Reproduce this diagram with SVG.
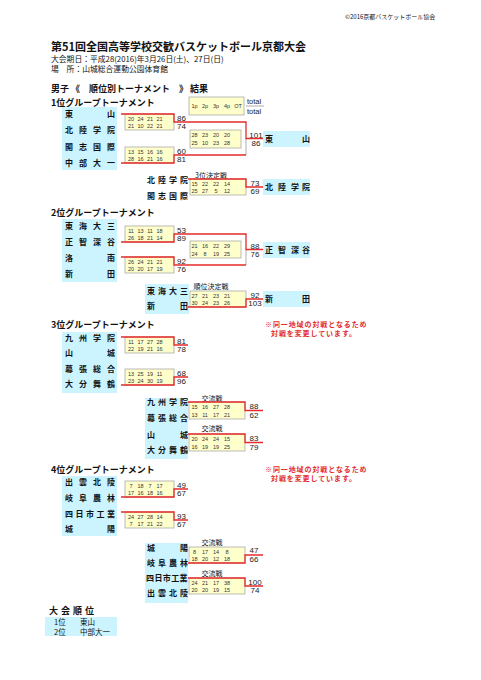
<svg xmlns="http://www.w3.org/2000/svg" width="481" height="680" viewBox="0 0 481 680">
<style>
text{font-family:"Noto Sans CJK JP","Noto Sans CJK SC",sans-serif;fill:#111}
.n{font-size:8px;font-weight:bold}
.s{font-family:"Liberation Sans",Arial,sans-serif;font-size:8px;fill:#222}
.s3{font-family:"Liberation Sans",Arial,sans-serif;font-size:8px;fill:#222;text-anchor:middle}
.q{font-family:"Liberation Sans",Arial,sans-serif;font-size:5.5px;fill:#333;text-anchor:middle}
.lb{font-size:7px;text-anchor:middle}
.h{font-size:9px;font-weight:bold}
.note{font-size:7px;font-weight:bold;fill:#e52b2b;letter-spacing:0.9px}
.cy{fill:#ccf4ff}
.yb{fill:#ffffcc;stroke:#aaa;stroke-width:0.8}
.r{stroke:#e52b2b;stroke-width:1.3;fill:none}
.g{stroke:#999;stroke-width:0.8;fill:none}
</style>
<rect width="481" height="680" fill="#fff"/>
<g id="header">
<text x="345" y="19" style="font-size:6px">©2016京都バスケットボール協会</text>
<text x="51" y="51" style="font-size:11px;font-weight:bold">第51回全国高等学校交歓バスケットボール京都大会</text>
<text x="51" y="61.5" style="font-size:7.8px">大会期日：平成28(2016)年3月26日(土)、27日(日)</text>
<text x="51" y="71.5" style="font-size:7.8px">場　所：山城総合運動公園体育館</text>
<text x="51" y="91.5" class="h">男子 《　順位別トーナメント　》 結果</text>
</g>

<!-- ===== Group 1 ===== -->
<g id="g1-heading"><text x="51" y="105.5" class="h">1位グループトーナメント</text></g>
<g id="g1-legend">
<rect x="189" y="97" width="55" height="18" class="yb"/>
<text class="q" y="108"><tspan x="194.5">1p</tspan><tspan x="205">2p</tspan><tspan x="216">3p</tspan><tspan x="227">4p</tspan><tspan x="238">OT</tspan></text>
<text class="s" x="247" y="103.5" style="font-size:7.5px">total</text>
<line x1="246" y1="106" x2="264" y2="106" class="g"/>
<text class="s" x="247" y="113.5" style="font-size:7.5px">total</text>
</g>
<g id="g1-names">
<rect x="62" y="107" width="55" height="63" class="cy"/>
<text class="n" x="65 107" y="117">東山</text>
<text class="n" x="65 79 93 107" y="133">北陸学院</text>
<text class="n" x="65 79 93 107" y="150">開志国際</text>
<text class="n" x="65 79 93 107" y="166">中部大一</text>
</g>
<g id="g1-m1">
<rect x="125" y="114" width="49" height="16" class="yb"/>
<text class="q" y="120.5"><tspan x="131">20</tspan><tspan x="140.5">24</tspan><tspan x="150">21</tspan><tspan x="159.5">21</tspan></text>
<text class="q" y="128"><tspan x="131">21</tspan><tspan x="140.5">10</tspan><tspan x="150">22</tspan><tspan x="159.5">21</tspan></text>
<text class="s" x="177" y="121">86</text><text class="s" x="177" y="129">74</text>
</g>
<g id="g1-m2">
<rect x="125" y="147" width="49" height="16" class="yb"/>
<text class="q" y="153.5"><tspan x="131">13</tspan><tspan x="140.5">15</tspan><tspan x="150">16</tspan><tspan x="159.5">16</tspan></text>
<text class="q" y="161"><tspan x="131">28</tspan><tspan x="140.5">16</tspan><tspan x="150">21</tspan><tspan x="159.5">16</tspan></text>
<text class="s" x="177" y="154">60</text><text class="s" x="177" y="162">81</text>
</g>
<g id="g1-final">
<rect x="190" y="130" width="51" height="18" class="yb"/>
<text class="q" y="137"><tspan x="194.5">28</tspan><tspan x="205">23</tspan><tspan x="216">20</tspan><tspan x="227">20</tspan></text>
<text class="q" y="145"><tspan x="194.5">25</tspan><tspan x="205">10</tspan><tspan x="216">23</tspan><tspan x="227">28</tspan></text>
<text class="s3" x="256" y="137.5">101</text><text class="s3" x="256" y="146">86</text>
</g>
<g id="g1-winner">
<rect x="263" y="131" width="47" height="16" class="cy"/>
<text class="n" x="265 302" y="142">東山</text>
</g>
<g id="g1-third">
<text class="lb" x="211" y="177.5">3位決定戦</text>
<text class="n" x="147 158 169 180" y="183">北陸学院</text>
<text class="n" x="147 158 169 180" y="199">開志国際</text>
<rect x="190" y="179" width="56" height="16" class="yb"/>
<text class="q" y="185.5"><tspan x="194.5">15</tspan><tspan x="205">22</tspan><tspan x="216">22</tspan><tspan x="227">14</tspan></text>
<text class="q" y="193"><tspan x="194.5">25</tspan><tspan x="205">27</tspan><tspan x="216">5</tspan><tspan x="227">12</tspan></text>
<text class="s3" x="255" y="186">73</text><text class="s3" x="255" y="194">69</text>
</g>
<g id="g1-third-winner">
<rect x="263" y="179" width="47" height="16" class="cy"/>
<text class="n" x="265 278 291 302" y="190">北陸学院</text>
</g>

<!-- ===== Group 2 ===== -->
<g id="g2-heading"><text x="51" y="215.5" class="h">2位グループトーナメント</text></g>
<g id="g2-names">
<rect x="62" y="219" width="55" height="63" class="cy"/>
<text class="n" x="65 79 93 107" y="229">東海大三</text>
<text class="n" x="65 79 93 107" y="245">正智深谷</text>
<text class="n" x="65 107" y="261">洛南</text>
<text class="n" x="65 107" y="277">新田</text>
</g>
<g id="g2-m1">
<rect x="125" y="226" width="49" height="16" class="yb"/>
<text class="q" y="232.5"><tspan x="131">11</tspan><tspan x="140.5">13</tspan><tspan x="150">11</tspan><tspan x="159.5">18</tspan></text>
<text class="q" y="240"><tspan x="131">26</tspan><tspan x="140.5">18</tspan><tspan x="150">21</tspan><tspan x="159.5">14</tspan></text>
<text class="s" x="177" y="233">53</text><text class="s" x="177" y="241">89</text>
</g>
<g id="g2-m2">
<rect x="125" y="257" width="49" height="16" class="yb"/>
<text class="q" y="263.5"><tspan x="131">26</tspan><tspan x="140.5">24</tspan><tspan x="150">21</tspan><tspan x="159.5">21</tspan></text>
<text class="q" y="271"><tspan x="131">20</tspan><tspan x="140.5">20</tspan><tspan x="150">17</tspan><tspan x="159.5">19</tspan></text>
<text class="s" x="177" y="264">92</text><text class="s" x="177" y="272">76</text>
</g>
<g id="g2-final">
<rect x="190" y="241" width="51" height="17" class="yb"/>
<text class="q" y="247.5"><tspan x="194.5">21</tspan><tspan x="205">16</tspan><tspan x="216">22</tspan><tspan x="227">29</tspan></text>
<text class="q" y="255.5"><tspan x="194.5">24</tspan><tspan x="205">8</tspan><tspan x="216">19</tspan><tspan x="227">25</tspan></text>
<text class="s3" x="255" y="248.5">88</text><text class="s3" x="255" y="257">76</text>
</g>
<g id="g2-winner">
<rect x="263" y="242" width="47" height="16" class="cy"/>
<text class="n" x="265 278 291 302" y="253">正智深谷</text>
</g>
<g id="g2-rank">
<text class="lb" x="211" y="288.5">順位決定戦</text>
<rect x="145" y="284" width="44" height="30" class="cy"/>
<text class="n" x="147 158 169 180" y="294">東海大三</text>
<text class="n" x="147 180" y="309">新田</text>
<rect x="190" y="291" width="56" height="16" class="yb"/>
<text class="q" y="297.5"><tspan x="194.5">27</tspan><tspan x="205">21</tspan><tspan x="216">23</tspan><tspan x="227">21</tspan></text>
<text class="q" y="305"><tspan x="194.5">30</tspan><tspan x="205">24</tspan><tspan x="216">23</tspan><tspan x="227">26</tspan></text>
<text class="s3" x="255" y="297.5">92</text><text class="s3" x="255" y="306">103</text>
</g>
<g id="g2-rank-winner">
<rect x="263" y="291" width="47" height="16" class="cy"/>
<text class="n" x="265 302" y="302">新田</text>
</g>

<!-- ===== Group 3 ===== -->
<g id="g3-heading"><text x="51" y="327.5" class="h">3位グループトーナメント</text></g>
<g id="g3-note">
<text class="note" x="265" y="327">※同一地域の対戦となるため</text>
<text class="note" x="271" y="336">対戦を変更しています。</text>
</g>
<g id="g3-names">
<rect x="62" y="332" width="55" height="61" class="cy"/>
<text class="n" x="65 79 93 107" y="341">九州学院</text>
<text class="n" x="65 107" y="356">山城</text>
<text class="n" x="65 79 93 107" y="372">幕張総合</text>
<text class="n" x="65 79 93 107" y="387">大分舞鶴</text>
</g>
<g id="g3-m1">
<rect x="125" y="337" width="49" height="16" class="yb"/>
<text class="q" y="343.5"><tspan x="131">11</tspan><tspan x="140.5">17</tspan><tspan x="150">27</tspan><tspan x="159.5">28</tspan></text>
<text class="q" y="351"><tspan x="131">22</tspan><tspan x="140.5">19</tspan><tspan x="150">21</tspan><tspan x="159.5">16</tspan></text>
<text class="s" x="177" y="344">81</text><text class="s" x="177" y="352">78</text>
</g>
<g id="g3-m2">
<rect x="125" y="369" width="49" height="16" class="yb"/>
<text class="q" y="375.5"><tspan x="131">13</tspan><tspan x="140.5">25</tspan><tspan x="150">19</tspan><tspan x="159.5">11</tspan></text>
<text class="q" y="383"><tspan x="131">23</tspan><tspan x="140.5">24</tspan><tspan x="150">30</tspan><tspan x="159.5">19</tspan></text>
<text class="s" x="177" y="376">68</text><text class="s" x="177" y="384">96</text>
</g>
<g id="g3-cross-names">
<rect x="145" y="398" width="43" height="61" class="cy"/>
<text class="n" x="147 158 169 180" y="405">九州学院</text>
<text class="n" x="147 158 169 180" y="421">幕張総合</text>
<text class="n" x="147 180" y="438">山城</text>
<text class="n" x="147 158 169 180" y="453">大分舞鶴</text>
</g>
<g id="g3-x1">
<text class="lb" x="212" y="400.5">交流戦</text>
<rect x="189" y="402" width="56" height="17" class="yb"/>
<text class="q" y="408.5"><tspan x="194.5">15</tspan><tspan x="205">16</tspan><tspan x="216">27</tspan><tspan x="227">28</tspan></text>
<text class="q" y="416.5"><tspan x="194.5">13</tspan><tspan x="205">11</tspan><tspan x="216">17</tspan><tspan x="227">21</tspan></text>
<text class="s3" x="254" y="409">88</text><text class="s3" x="254" y="417.5">62</text>
</g>
<g id="g3-x2">
<text class="lb" x="212" y="431">交流戦</text>
<rect x="189" y="434" width="56" height="17" class="yb"/>
<text class="q" y="440.5"><tspan x="194.5">20</tspan><tspan x="205">24</tspan><tspan x="216">24</tspan><tspan x="227">15</tspan></text>
<text class="q" y="448.5"><tspan x="194.5">16</tspan><tspan x="205">19</tspan><tspan x="216">19</tspan><tspan x="227">25</tspan></text>
<text class="s3" x="254" y="441">83</text><text class="s3" x="254" y="449.5">79</text>
</g>

<!-- ===== Group 4 ===== -->
<g id="g4-heading"><text x="51" y="472.5" class="h">4位グループトーナメント</text></g>
<g id="g4-note">
<text class="note" x="265" y="472">※同一地域の対戦となるため</text>
<text class="note" x="271" y="481">対戦を変更しています。</text>
</g>
<g id="g4-names">
<rect x="62" y="476" width="55" height="60" class="cy"/>
<text class="n" x="65 79 93 107" y="485">出雲北陵</text>
<text class="n" x="65 79 93 107" y="501">岐阜農林</text>
<text class="n" x="65 75.5 86 96.5 107" y="517">四日市工業</text>
<text class="n" x="65 107" y="532">城陽</text>
</g>
<g id="g4-m1">
<rect x="125" y="481" width="49" height="16" class="yb"/>
<text class="q" y="487.5"><tspan x="131">7</tspan><tspan x="140.5">18</tspan><tspan x="150">7</tspan><tspan x="159.5">17</tspan></text>
<text class="q" y="495"><tspan x="131">17</tspan><tspan x="140.5">16</tspan><tspan x="150">18</tspan><tspan x="159.5">16</tspan></text>
<text class="s" x="177" y="488">49</text><text class="s" x="177" y="496">67</text>
</g>
<g id="g4-m2">
<rect x="125" y="512" width="49" height="16" class="yb"/>
<text class="q" y="518.5"><tspan x="131">24</tspan><tspan x="140.5">27</tspan><tspan x="150">28</tspan><tspan x="159.5">14</tspan></text>
<text class="q" y="526"><tspan x="131">7</tspan><tspan x="140.5">17</tspan><tspan x="150">21</tspan><tspan x="159.5">22</tspan></text>
<text class="s" x="177" y="519">93</text><text class="s" x="177" y="527">67</text>
</g>
<g id="g4-cross-names">
<rect x="145" y="543" width="43" height="60" class="cy"/>
<text class="n" x="147 180" y="551">城陽</text>
<text class="n" x="147 158 169 180" y="566">岐阜農林</text>
<text class="n" x="146 154.4 162.8 171.2 179.6" y="581">四日市工業</text>
<text class="n" x="147 158 169 180" y="596">出雲北陵</text>
</g>
<g id="g4-x1">
<text class="lb" x="212" y="544.5">交流戦</text>
<rect x="189" y="547" width="56" height="16" class="yb"/>
<text class="q" y="553.5"><tspan x="194.5">8</tspan><tspan x="205">17</tspan><tspan x="216">14</tspan><tspan x="227">8</tspan></text>
<text class="q" y="561"><tspan x="194.5">18</tspan><tspan x="205">20</tspan><tspan x="216">12</tspan><tspan x="227">18</tspan></text>
<text class="s3" x="254" y="553">47</text><text class="s3" x="254" y="561.5">66</text>
</g>
<g id="g4-x2">
<text class="lb" x="212" y="575.5">交流戦</text>
<rect x="189" y="578" width="56" height="16" class="yb"/>
<text class="q" y="584.5"><tspan x="194.5">24</tspan><tspan x="205">21</tspan><tspan x="216">17</tspan><tspan x="227">38</tspan></text>
<text class="q" y="592"><tspan x="194.5">20</tspan><tspan x="205">20</tspan><tspan x="216">19</tspan><tspan x="227">15</tspan></text>
<text class="s3" x="255" y="584.5">100</text><text class="s3" x="255" y="593">74</text>
</g>

<!-- ===== Final ranking ===== -->
<g id="ranking">
<text class="h" x="49 61 73 85" y="614">大会順位</text>
<rect x="45" y="617" width="72" height="19" class="cy"/>
<text x="54" y="625" style="font-size:7.5px">1位</text>
<text x="80" y="625" style="font-size:7.5px">東山</text>
<text x="54" y="634.5" style="font-size:7.5px">2位</text>
<text x="80" y="634.5" style="font-size:7.5px">中部大一</text>
</g>

<g id="connectors">
<path class="g" d="M246 138.5V155"/>
<path class="r" d="M121 114H174V122H246V138.5H263"/>
<path class="r" d="M121 163H174V155H246"/>
<path class="r" d="M188 179H246V187H263"/>
<path class="g" d="M246 249.5V265"/>
<path class="r" d="M121 242H174V234H246V249.5H263"/>
<path class="r" d="M121 257H174V265H246"/>
<path class="r" d="M188 307H246V299H263"/>
<path class="r" d="M121 337H174V345H188"/>
<path class="r" d="M121 385H174V377H188"/>
<path class="r" d="M188 402H245V410.5H263"/>
<path class="r" d="M188 434H245V442.5H263"/>
<path class="r" d="M121 497H174V489H188"/>
<path class="r" d="M121 512H174V520H188"/>
<path class="r" d="M188 563H245V555H263"/>
<path class="r" d="M188 578H245V586H263"/>
</g>
</svg>
